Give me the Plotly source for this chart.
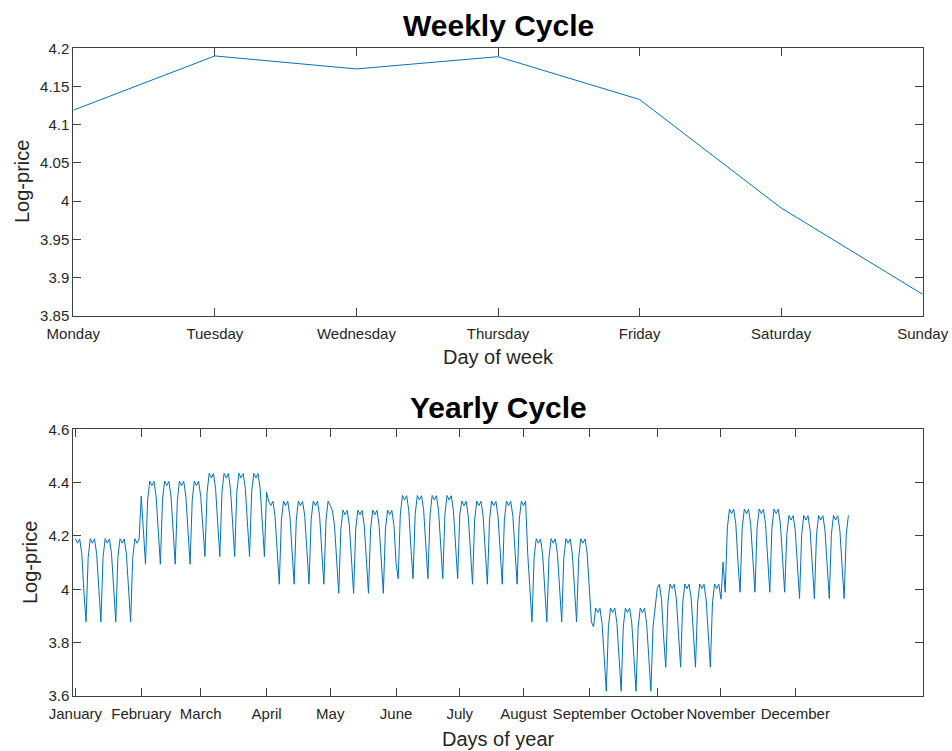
import plotly.graph_objects as go

# ---------------- data ----------------
weekday_names = ["Monday", "Tuesday", "Wednesday", "Thursday", "Friday", "Saturday", "Sunday"]
weekly_logprice = [4.119, 4.190, 4.173, 4.189, 4.133, 3.991, 3.878]

month_names = ["January", "February", "March", "April", "May", "June", "July",
               "August", "September", "October", "November", "December"]
month_tick_days = [1, 32, 60, 91, 121, 152, 182, 212, 243, 275, 305, 340]
# monthly shift of the log-price relative to January (read from plateau levels)
month_effect = [0.000, 0.216, 0.245, 0.141, 0.107, 0.162, 0.141, 0.000, -0.260, -0.170, 0.111, 0.087]
month_lengths = [31, 29, 31, 30, 31, 30, 31, 31, 30, 31, 30, 31]   # 2008 (leap year)
first_weekday_index = 1          # day 1 is a Tuesday
n_days = 365

# yearly series: weekday level + month shift
year_days = []
year_values = []
d = 0
for m, ml in enumerate(month_lengths):
    for _ in range(ml):
        d += 1
        if d > n_days:
            break
        year_days.append(d)
        year_values.append(weekly_logprice[(first_weekday_index + d - 1) % 7] + month_effect[m])

week_y_ticks = [3.85, 3.9, 3.95, 4.0, 4.05, 4.1, 4.15, 4.2]
week_y_text = ["3.85", "3.9", "3.95", "4", "4.05", "4.1", "4.15", "4.2"]
year_y_ticks = [3.6, 3.8, 4.0, 4.2, 4.4, 4.6]
year_y_text = ["3.6", "3.8", "4", "4.2", "4.4", "4.6"]

# ---------------- figure ----------------
W, H = 952, 751
FONT = "Liberation Sans, Arial, Helvetica, sans-serif"
TXT = "#262626"
AX = "#404040"
LINE = "#0072BD"

x_dom = [73.3 / W, 922.7 / W]
top_dom = [1 - 315.7 / H, 1 - 48.3 / H]
bot_dom = [1 - 696.0 / H, 1 - 429.3 / H]

fig = go.Figure()
fig.add_trace(go.Scatter(x=list(range(1, 8)), y=weekly_logprice, mode="lines",
                         line=dict(color=LINE, width=1), xaxis="x", yaxis="y",
                         showlegend=False, hoverinfo="skip"))
fig.add_trace(go.Scatter(x=year_days, y=year_values, mode="lines",
                         line=dict(color=LINE, width=1), xaxis="x2", yaxis="y2",
                         showlegend=False, hoverinfo="skip"))

axis_common = dict(showline=True, linecolor=AX, linewidth=1, mirror="ticks",
                   ticks="inside", ticklen=8, tickwidth=1, tickcolor=AX,
                   showgrid=False, zeroline=False, automargin=False,
                   tickangle=0,
                   tickfont=dict(family=FONT, size=15, color=TXT))

fig.update_layout(
    width=W, height=H, autosize=False,
    margin=dict(l=0, r=0, t=0, b=0, pad=0),
    paper_bgcolor="white", plot_bgcolor="white",
    xaxis=dict(domain=x_dom, anchor="y", range=[1, 7], ticklabelstandoff=4,
               tickvals=list(range(1, 8)), ticktext=weekday_names, **axis_common),
    yaxis=dict(domain=top_dom, anchor="x", range=[3.85, 4.2],
               tickvals=week_y_ticks, ticktext=week_y_text, **axis_common),
    xaxis2=dict(domain=x_dom, anchor="y2", range=[0, 400], ticklabelstandoff=4,
                tickvals=month_tick_days, ticktext=month_names, **axis_common),
    yaxis2=dict(domain=bot_dom, anchor="x2", range=[3.6, 4.6],
                tickvals=year_y_ticks, ticktext=year_y_text, **axis_common),
)

def ann(text, x, y, size, bold=False, angle=0, color=TXT):
    fig.add_annotation(text=("<b>%s</b>" % text) if bold else text,
                       x=x / W, y=1 - y / H, xref="paper", yref="paper",
                       xanchor="center", yanchor="middle", showarrow=False,
                       textangle=angle,
                       font=dict(family=FONT, size=size, color=color))

ann("Weekly Cycle", 498, 26, 30, bold=True, color="black")
ann("Yearly Cycle", 498, 407, 30, bold=True, color="black")
ann("Day of week", 498, 357, 20)
ann("Days of year", 498, 739, 20)
ann("Log-price", 22, 182, 20, angle=-90)
ann("Log-price", 30, 563, 20, angle=-90)

fig.write_html("out.html")
